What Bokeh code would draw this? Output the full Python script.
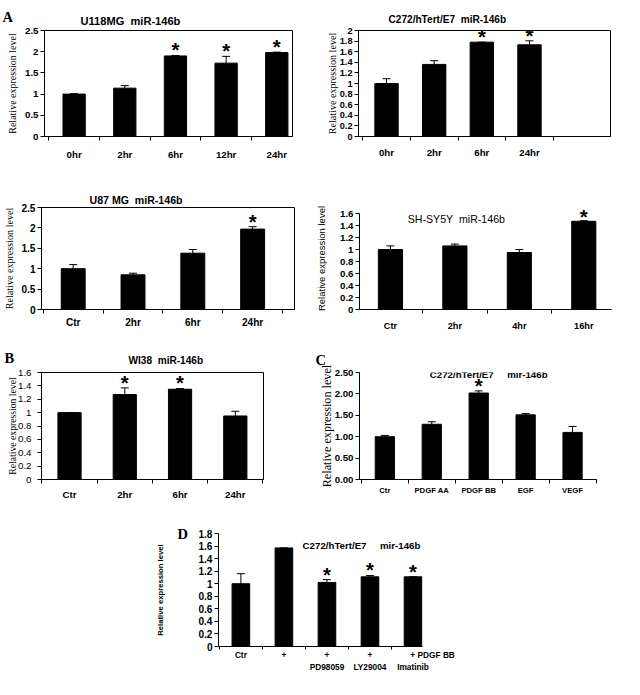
from bokeh.plotting import figure
from bokeh.models import Range1d, FixedTicker, NumeralTickFormatter, Whisker, TeeHead, ColumnDataSource, Label, Title
from bokeh.layouts import column, row
from bokeh.embed import file_html
from bokeh.resources import INLINE
from bokeh.core.properties import value

S = 0.965
SANS = "Liberation Sans"
SERIF = "Liberation Serif"
YLABEL = "Relative expression level"
NB = "\u00a0"


def sc(v):
    return int(round(v * S))


def fs(v):
    return f"{v * S:.1f}px"


# ---------------- data ----------------
a1_cats = ["0hr", "2hr", "6hr", "12hr", "24hr"]
a1_vals = [1.00, 1.14, 1.90, 1.73, 1.98]
a1_errs = [0.01, 0.06, 0.01, 0.16, 0.01]
a1_star = [0, 0, 1, 1, 1]
a1_yticks = [0, 0.5, 1, 1.5, 2, 2.5]

a2_cats = ["0hr", "2hr", "6hr", "24hr"]
a2_vals = [1.00, 1.36, 1.78, 1.73]
a2_errs = [0.09, 0.07, 0.0, 0.075]
a2_star = [0, 0, 1, 1]
a2_yticks = [0, 0.2, 0.4, 0.6, 0.8, 1, 1.2, 1.4, 1.6, 1.8, 2]

a3_cats = ["Ctr", "2hr", "6hr", "24hr"]
a3_vals = [1.00, 0.85, 1.38, 1.97]
a3_errs = [0.10, 0.04, 0.09, 0.06]
a3_star = [0, 0, 0, 1]
a3_yticks = [0, 0.5, 1, 1.5, 2, 2.5]

a4_cats = ["Ctr", "2hr", "4hr", "16hr"]
a4_vals = [1.00, 1.06, 0.95, 1.47]
a4_errs = [0.06, 0.03, 0.05, 0.01]
a4_star = [0, 0, 0, 1]
a4_yticks = [0, 0.2, 0.4, 0.6, 0.8, 1, 1.2, 1.4, 1.6]

b_cats = ["Ctr", "2hr", "6hr", "24hr"]
b_vals = [1.00, 1.27, 1.35, 0.95]
b_errs = [0.0, 0.10, 0.01, 0.07]
b_star = [0, 1, 1, 0]
b_yticks = [0, 0.2, 0.4, 0.6, 0.8, 1, 1.2, 1.4, 1.6]

c_cats = ["Ctr", "PDGF AA", "PDGF BB", "EGF", "VEGF"]
c_vals = [1.00, 1.29, 2.02, 1.51, 1.10]
c_errs = [0.03, 0.06, 0.05, 0.03, 0.14]
c_star = [0, 0, 1, 0, 0]
c_yticks = [0, 0.5, 1, 1.5, 2, 2.5]

d_cats = ["Ctr", "+", "+", "+", "+"]
d_sub = ["", "", "PD98059", "LY29004", "Imatinib"]
d_vals = [1.00, 1.57, 1.02, 1.11, 1.11]
d_errs = [0.16, 0.0, 0.045, 0.02, 0.0]
d_star = [0, 0, 1, 1, 1]
d_yticks = [0, 0.2, 0.4, 0.6, 0.8, 1, 1.2, 1.4, 1.6, 1.8]
d_treat = "PDGF BB"


def panel(cats, vals, errs, stars, ymax, yticks, yfmt, fig_box, frame, xr, boxed, bar_w,
          ylab_font, ylab_size, ylab_style, ylab_standoff,
          xt_size, xt_standoff, yt_size, yt_style, xlabels=None, ytop=None,
          yt_standoff=2, xtick_len=4):
    fx0, fy0, fx1, fy1 = fig_box
    l, t, r, b = frame
    xs, xe = xr
    ytop = ymax if ytop is None else ytop
    W = sc(fx1) - sc(fx0)
    H = sc(fy1) - sc(fy0)
    n = len(cats)
    p = figure(width=W, height=H, output_backend="svg", toolbar_location=None,
               x_range=Range1d(xs, xe), y_range=Range1d(0, ytop),
               min_border_left=sc(l) - sc(fx0), min_border_right=sc(fx1) - sc(r),
               min_border_top=sc(t) - sc(fy0), min_border_bottom=sc(fy1) - sc(b),
               background_fill_color="white", border_fill_color="white")
    p.xgrid.visible = False
    p.ygrid.visible = False
    p.outline_line_color = "black" if boxed else None

    def dx(X):
        return xs + (X - l) / (r - l) * (xe - xs)

    def dy(Y):
        return (b - Y) / (b - t) * ytop

    ppu = (b - t) / ytop  # ref px per unit

    idx = list(range(n))
    upper = [v + e for v, e in zip(vals, errs)]
    src = ColumnDataSource(dict(x=idx, top=vals, lower=vals, upper=upper))
    p.vbar(x="x", top="top", width=bar_w, source=src, fill_color="black", line_color="black")
    p.add_layout(Whisker(source=src, base="x", upper="upper", lower="lower", dimension="height",
                         line_color="black", line_width=1,
                         upper_head=TeeHead(size=8, line_color="black", line_width=1),
                         lower_head=None))
    sx = [i for i in idx if stars[i]]
    sy = [upper[i] + 5.5 / ppu for i in sx]
    p.text(x=sx, y=sy, text=["*"] * len(sx), text_font=value(SANS), text_font_size=fs(21),
           text_font_style="bold", text_align="center", text_baseline="middle", text_color="black")

    xa = p.xaxis[0]
    minor = [i - 0.5 for i in range(n + 1) if xs <= i - 0.5 <= xe]
    xa.ticker = FixedTicker(ticks=idx, minor_ticks=minor)
    labs = xlabels if xlabels is not None else cats
    xa.major_label_overrides = {i: c for i, c in enumerate(labs)}
    xa.major_tick_out = 0
    xa.major_tick_in = 0
    xa.minor_tick_out = xtick_len
    xa.minor_tick_in = 0
    xa.major_label_standoff = xt_standoff
    xa.major_label_text_font = SANS
    xa.major_label_text_font_size = fs(xt_size)
    xa.major_label_text_font_style = "bold"
    xa.major_label_text_color = "black"
    xa.axis_line_color = "black"
    xa.minor_tick_line_color = "black"

    ya = p.yaxis[0]
    ya.ticker = FixedTicker(ticks=yticks)
    ya.formatter = NumeralTickFormatter(format=yfmt)
    ya.bounds = (0, ymax)
    ya.major_tick_out = 4
    ya.major_tick_in = 0
    ya.minor_tick_out = 0
    ya.minor_tick_in = 0
    ya.major_label_standoff = yt_standoff
    ya.major_label_text_font = SANS
    ya.major_label_text_font_size = fs(yt_size)
    ya.major_label_text_font_style = yt_style
    ya.major_label_text_color = "black"
    ya.axis_line_color = "black"
    ya.major_tick_line_color = "black"
    ya.axis_label = YLABEL
    ya.axis_label_text_font = ylab_font
    ya.axis_label_text_font_size = fs(ylab_size)
    ya.axis_label_text_font_style = ylab_style
    ya.axis_label_text_color = "black"
    ya.axis_label_standoff = ylab_standoff
    return p, dx, dy


def set_title(ttl, text, x_left, frame, size, style, font, standoff):
    l, t, r, b = frame
    ttl.text = text
    ttl.align = "left"
    ttl.offset = sc(x_left - l)
    ttl.standoff = standoff
    ttl.text_font = font
    ttl.text_font_size = fs(size)
    ttl.text_font_style = style
    ttl.text_color = "black"


def inner_main_title(p, text, x_left, frame, size, standoff):
    # title placed next to the frame; the figure's own title (outer) carries the panel letter
    t = Title(text="")
    set_title(t, text, x_left, frame, size, "bold", SANS, standoff)
    p.add_layout(t, "above")


def inner_title(p, dx, dy, text, pos, size, style):
    p.add_layout(Label(x=dx(pos[0]), y=dy(pos[1]), text=text, text_font=SANS,
                       text_font_size=fs(size), text_font_style=style,
                       text_align="left", text_baseline="middle", text_color="black"))


A1F = (46, 28, 303, 142)
pa1, a1dx, a1dy = panel(a1_cats, a1_vals, a1_errs, a1_star, 2.5, a1_yticks, "0.[0]",
                        (0, 0, 320, 168), A1F, (-0.585, 4.31), True, 0.44,
                        SERIF, 10.4, "normal", 4, 10, 8, 10, "bold")
inner_main_title(pa1, "U118MG" + NB * 2 + "miR-146b", 83, A1F, 11.5, 8)
set_title(pa1.title, "A", 2, A1F, 15, "bold", SERIF, -32)

A2F = (371, 31, 632, 144)
pa2, _, _ = panel(a2_cats, a2_vals, a2_errs, a2_star, 2.0, a2_yticks, "0.[0]",
                  (320, 0, 640, 168), A2F, (-0.588, 4.70), True, 0.49,
                  SERIF, 10.5, "normal", -1, 10, 6, 9.5, "bold")
set_title(pa2.title, "C272/hTert/E7" + NB * 2 + "miR-146b", 402, A2F, 10.5, "bold", SANS, 11)

A3F = (42, 214, 305, 327)
pa3, _, _ = panel(a3_cats, a3_vals, a3_errs, a3_star, 2.5, a3_yticks, "0.[0]",
                  (0, 168, 320, 345), A3F, (-0.53, 3.70), True, 0.40,
                  SERIF, 10.5, "normal", 3, 10.5, 3, 10.5, "bold")
set_title(pa3.title, "U87 MG" + NB * 2 + "miR-146b", 92, A3F, 11, "bold", SANS, 3)

A4F = (372, 179.75, 633, 320)
pa4, a4dx, a4dy = panel(a4_cats, a4_vals, a4_errs, a4_star, 1.6, a4_yticks, "0.[0]",
                        (320, 168, 640, 345), A4F, (-0.48, 3.43), False, 0.375,
                        SANS, 9.8, "normal", 10, 9.5, 7, 10, "bold", ytop=1.7)
inner_title(pa4, a4dx, a4dy, "SH-SY5Y" + NB * 2 + "miR-146b", (422, 195), 11, "normal")

BF = (43, 386, 273, 498)
pb, bdx, bdy = panel(b_cats, b_vals, b_errs, b_star, 1.6, b_yticks, "0.[0]",
                     (0, 345, 320, 520), BF, (-0.507, 3.51), True, 0.42,
                     SERIF, 10, "normal", -3, 10, 5, 10, "normal", yt_standoff=6)
inner_main_title(pb, "WI38" + NB * 2 + "miR-146b", 133, BF, 10.5, 14)
set_title(pb.title, "B", 5, BF, 15, "bold", SERIF, -40)

CF = (372, 374, 618, 503)
pc, cdx, cdy = panel(c_cats, c_vals, c_errs, c_star, 2.5, c_yticks, "0.00",
                     (320, 345, 640, 520), CF, (-0.54, 4.51), False, 0.41,
                     SERIF, 12.6, "normal", -2, 8, 2, 10, "bold")
inner_title(pc, cdx, cdy, "C272/hTert/E7" + NB * 5 + "mir-146b", (445, 377), 10, "bold")
set_title(pc.title, "C", 326, CF, 15, "bold", SERIF, 10)

DF = (226, 552, 437, 674)
d_labels = []
for i, (c, s) in enumerate(zip(d_cats, d_sub)):
    if i == len(d_cats) - 1:
        d_labels.append(NB * 17 + c + NB + d_treat.replace(" ", NB) + "\n" + s)
    elif s:
        d_labels.append(c + "\n" + s)
    else:
        d_labels.append(c)
pd_, ddx, ddy = panel(d_cats, d_vals, d_errs, d_star, 1.8, d_yticks, "0.[0]",
                      (0, 520, 640, 698), DF, (-0.52, 4.22), False, 0.41,
                      SANS, 8, "bold", 30, 8.6, 0, 10.5, "bold", xlabels=d_labels, xtick_len=3)
inner_title(pd_, ddx, ddy, "C272/hTert/E7" + NB * 5 + "mir-146b", (313, 565), 10, "bold")
set_title(pd_.title, "D", 183, DF, 15, "bold", SERIF, -17)

layout = column(row(pa1, pa2), row(pa3, pa4), row(pb, pc), pd_)
open("out.html", "w").write(file_html(layout, INLINE))
